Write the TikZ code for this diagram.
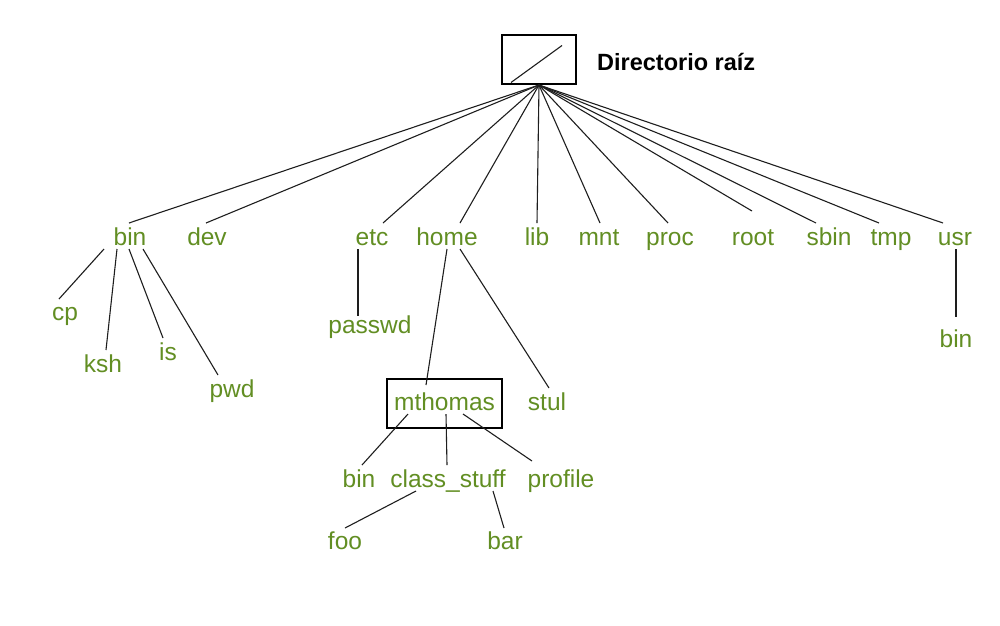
\documentclass[tikz,border=0pt]{standalone}
\usepackage{fontspec}
\setmainfont{Liberation Sans}
\usetikzlibrary{calc}
\definecolor{lblgreen}{RGB}{98,142,35}
\definecolor{edgecol}{RGB}{30,30,30}
\tikzset{
  lbl/.style={anchor=base, inner sep=0pt, text=lblgreen, font=\fontsize{24.5}{24.5}\selectfont},
  edge/.style={draw=edgecol, line width=1.1pt},
  boxed/.style={draw=black, line width=2pt},
}
\begin{document}
\begin{tikzpicture}[x=1pt,y=-1pt]
\useasboundingbox (0,0) rectangle (1000,625);
% root box
\node[boxed, minimum width=74pt, minimum height=49pt, inner sep=0pt] (rootbox) at (539,59.5) {};
\draw[edge] ([shift={(-28,23)}]rootbox.center) -- ([shift={(23,-14)}]rootbox.center);
\node[anchor=base west, inner sep=0pt, font=\fontsize{23.5}{23.5}\selectfont\bfseries] (title) at (597,70) {Directorio raíz};
% top level
\node[lbl] (bin) at (130,245) {bin};
\node[lbl] (dev) at (207,245) {dev};
\node[lbl] (etc) at (372,245) {etc};
\node[lbl] (home) at (447,245) {home};
\node[lbl] (lib) at (537,245) {lib};
\node[lbl] (mnt) at (599,245) {mnt};
\node[lbl] (proc) at (670,245) {proc};
\node[lbl] (root) at (753,245) {root};
\node[lbl] (sbin) at (829,245) {sbin};
\node[lbl] (tmp) at (891,245) {tmp};
\node[lbl] (usr) at (955,245) {usr};
% bin children
\node[lbl] (cp) at (65,320) {cp};
\node[lbl] (ksh) at (103,372) {ksh};
\node[lbl] (is) at (168,360) {is};
\node[lbl] (pwd) at (232,397) {pwd};
% etc child
\node[lbl] (passwd) at (370,333) {passwd};
% home children
\node[lbl, draw=black, line width=2pt, text height=18pt, text depth=5pt, inner xsep=6pt, inner ysep=13pt, minimum width=115pt] (mthomas) at (444.5,410) {mthomas};
\node[lbl] (stul) at (547,410) {stul};
% mthomas children
\node[lbl] (mbin) at (359,487) {bin};
\node[lbl] (class) at (448,487) {class\_stuff};
\node[lbl] (profile) at (561,487) {profile};
% class_stuff children
\node[lbl] (foo) at (345,549) {foo};
\node[lbl] (bar) at (505,549) {bar};
% usr child
\node[lbl] (ubin) at (956,347) {bin};
% edges from root
\draw[edge] (rootbox.south) -- ([shift={(-1,-22)}]bin.base);
\draw[edge] (rootbox.south) -- ([shift={(-1,-22)}]dev.base);
\draw[edge] (rootbox.south) -- ([shift={(11,-22)}]etc.base);
\draw[edge] (rootbox.south) -- ([shift={(13,-22)}]home.base);
\draw[edge] (rootbox.south) -- ([shift={(0,-22)}]lib.base);
\draw[edge] (rootbox.south) -- ([shift={(1,-22)}]mnt.base);
\draw[edge] (rootbox.south) -- ([shift={(-2,-22)}]proc.base);
\draw[edge] (rootbox.south) -- ([shift={(-1,-34)}]root.base);
\draw[edge] (rootbox.south) -- ([shift={(-13,-22)}]sbin.base);
\draw[edge] (rootbox.south) -- ([shift={(-12,-22)}]tmp.base);
\draw[edge] (rootbox.south) -- ([shift={(-12,-22)}]usr.base);
% bin edges
\draw[edge] ([shift={(-26,4)}]bin.base) -- ([shift={(-6,-21)}]cp.base);
\draw[edge] ([shift={(-13,4)}]bin.base) -- ([shift={(3,-22)}]ksh.base);
\draw[edge] ([shift={(-1,4)}]bin.base) -- ([shift={(-5,-22)}]is.base);
\draw[edge] ([shift={(13,4)}]bin.base) -- ([shift={(-14,-22)}]pwd.base);
% etc edge
\draw[edge] ([shift={(-14,4)}]etc.base) -- ([shift={(-12,-17)}]passwd.base);
% home edges
\draw[edge] ([shift={(0,4)}]home.base) -- ([shift={(-18.5,-25)}]mthomas.base);
\draw[edge] ([shift={(13,4)}]home.base) -- ([shift={(2,-22)}]stul.base);
% mthomas edges
\draw[edge] ([shift={(-36.5,4)}]mthomas.base) -- ([shift={(3,-22)}]mbin.base);
\draw[edge] ([shift={(1.5,4)}]mthomas.base) -- ([shift={(-1,-22)}]class.base);
\draw[edge] ([shift={(18.5,4)}]mthomas.base) -- ([shift={(-29,-26)}]profile.base);
% class_stuff edges
\draw[edge] ([shift={(-32,4)}]class.base) -- ([shift={(0,-21)}]foo.base);
\draw[edge] ([shift={(45,4)}]class.base) -- ([shift={(-1,-21)}]bar.base);
% usr edge
\draw[edge] ([shift={(1,4)}]usr.base) -- ([shift={(0,-30)}]ubin.base);
\end{tikzpicture}
\end{document}
